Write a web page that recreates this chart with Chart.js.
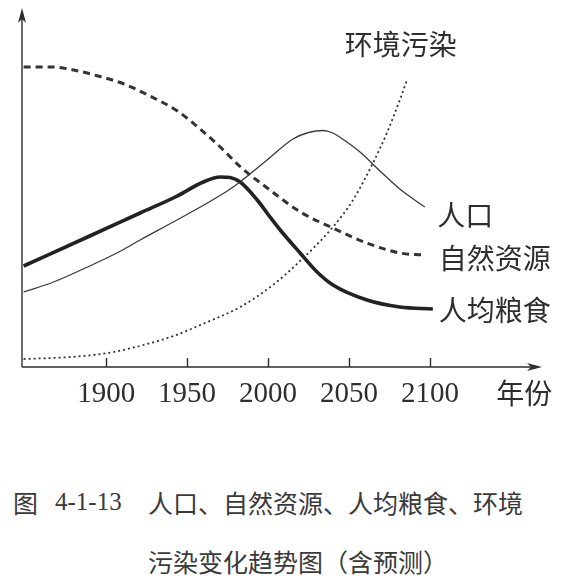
<!DOCTYPE html>
<html><head><meta charset="utf-8">
<script src="https://cdn.jsdelivr.net/npm/chart.js@4.4.1/dist/chart.umd.min.js"></script>
<style>
html,body{margin:0;padding:0;background:#fff;width:567px;height:581px;overflow:hidden;}
#wrap{position:absolute;left:0;top:0;width:567px;height:420px;}
.cap{position:absolute;font-family:"Noto Sans CJK SC";font-size:25px;color:#3a3a3a;line-height:30px;white-space:nowrap;}
.num{font-family:"Liberation Serif";}
</style></head><body>
<div id="wrap"><canvas id="c"></canvas></div>
<div class="cap" style="left:13px;top:487px">图</div>
<div class="cap num" style="left:55px;top:487px">4-1-13</div>
<div class="cap" style="left:148px;top:487px">人口、自然资源、人均粮食、环境</div>
<div class="cap" style="left:148px;top:546px">污染变化趋势图（含预测）</div>
<script>
const tickYears = [1900, 1950, 2000, 2050, 2100];

const popYears  = [1849, 1867.5, 1888.5, 1909, 1921, 1941.5, 1962.5, 1974.8, 1981, 1999.4, 2015.4, 2025, 2033.9, 2040, 2046, 2056.8, 2069.1, 2081.4, 2096.8];
const popValues = [75, 85, 100, 116, 127, 145, 164, 176, 183, 207, 228, 234.5, 236.5, 234, 228, 215, 196, 178, 160];

const foodYears  = [1849, 1888.5, 1921, 1942.7, 1960, 1970.5, 1976.6, 1982.8, 1993.3, 2001.2, 2007.5, 2019.8, 2030.3, 2040.1, 2061.1, 2081.4, 2101.8];
const foodValues = [101, 130, 154, 170, 185, 190, 189.5, 185, 167, 150, 137, 114, 95, 82, 67, 60, 58];

const resYears  = [1849, 1866, 1880, 1895, 1911, 1927, 1944, 1958, 1970.5, 1983, 1999.5, 2020, 2040, 2061, 2081.5, 2096];
const resValues = [300, 300, 297, 291, 283, 271, 256, 238, 220, 200, 179, 155, 139, 124, 114, 112];

const polYears  = [1849, 1878, 1901, 1923, 1941.5, 1962.5, 1982.8, 2003, 2018.5, 2040.1, 2052.5, 2064.8, 2073.4, 2081.4, 2085.8];
const polValues = [8, 10, 14, 22, 31, 45, 60, 82, 104, 140, 167, 204, 234, 267, 287];

const seriesNames = ['人口', '自然资源', '人均粮食', '环境污染'];
const axisTitle = '年份';

const pts = (xs, ys) => xs.map((x, i) => ({x: x, y: ys[i]}));
const ink = '#2e2e2e';
const cjk = '"Noto Sans CJK SC"';

const labelPlugin = {
  id: 'decor',
  afterDraw(chart) {
    const ctx = chart.ctx, a = chart.chartArea;
    const xs = chart.scales.x, ys = chart.scales.y;
    ctx.save();
    ctx.strokeStyle = ink; ctx.fillStyle = ink; ctx.lineWidth = 1.4;
    ctx.beginPath();
    ctx.moveTo(a.left, a.bottom); ctx.lineTo(a.left, a.top + 4);
    ctx.moveTo(a.left, a.bottom); ctx.lineTo(a.right - 4, a.bottom);
    ctx.stroke();
    ctx.beginPath();
    ctx.moveTo(a.left, a.top - 2); ctx.lineTo(a.left - 4, a.top + 13); ctx.lineTo(a.left, a.top + 9); ctx.lineTo(a.left + 4, a.top + 13); ctx.closePath();
    ctx.fill();
    ctx.beginPath();
    ctx.moveTo(a.right + 2, a.bottom); ctx.lineTo(a.right - 13, a.bottom - 4); ctx.lineTo(a.right - 9, a.bottom); ctx.lineTo(a.right - 13, a.bottom + 4); ctx.closePath();
    ctx.fill();
    ctx.beginPath();
    tickYears.forEach(v => { const px = Math.round(xs.getPixelForValue(v)) + 0.5; ctx.moveTo(px, a.bottom); ctx.lineTo(px, a.bottom - 9); });
    ctx.stroke();
    ctx.font = '28px ' + cjk;
    ctx.textBaseline = 'middle';
    const labs = [
      [seriesNames[0], 2104.5, 152, 'left'],
      [seriesNames[1], 2105.5, 109, 'left'],
      [seriesNames[2], 2105.5, 57, 'left'],
      [seriesNames[3], 2082, 323, 'center'],
      [axisTitle, 2141, -26, 'left']
    ];
    labs.forEach(l => {
      ctx.textAlign = l[3];
      ctx.fillText(l[0], xs.getPixelForValue(l[1]), ys.getPixelForValue(l[2]));
    });
    ctx.restore();
  }
};

new Chart(document.getElementById('c'), {
  type: 'line',
  data: {
    datasets: [
      {label: seriesNames[0], data: pts(popYears, popValues), borderColor: '#3a3a3a', borderWidth: 1.3, cubicInterpolationMode: 'monotone', pointRadius: 0},
      {label: seriesNames[1], data: pts(resYears, resValues), borderColor: '#333', borderWidth: 3, borderDash: [7, 5], cubicInterpolationMode: 'monotone', pointRadius: 0},
      {label: seriesNames[2], data: pts(foodYears, foodValues), borderColor: '#222', borderWidth: 3.6, cubicInterpolationMode: 'monotone', pointRadius: 0},
      {label: seriesNames[3], data: pts(polYears, polValues), borderColor: '#333', borderWidth: 1.8, borderDash: [2, 3], cubicInterpolationMode: 'monotone', pointRadius: 0}
    ]
  },
  options: {
    responsive: true, maintainAspectRatio: false, animation: false,
    layout: {padding: {left: 22, top: 10, right: 27, bottom: 0}},
    plugins: {legend: {display: false}, tooltip: {enabled: false}},
    scales: {
      x: {
        type: 'linear', min: 1848, max: 2168,
        afterBuildTicks: s => { s.ticks = tickYears.map(v => ({value: v})); },
        afterFit: s => { s.height = 53; },
        ticks: {font: {family: '"Liberation Serif"', size: 29}, color: ink, padding: 10, autoSkip: false, maxRotation: 0, callback: v => String(v)},
        grid: {display: false, drawTicks: false},
        border: {display: false}
      },
      y: {type: 'linear', min: 0, max: 357, display: false}
    }
  },
  plugins: [labelPlugin]
});
</script>
</body></html>
